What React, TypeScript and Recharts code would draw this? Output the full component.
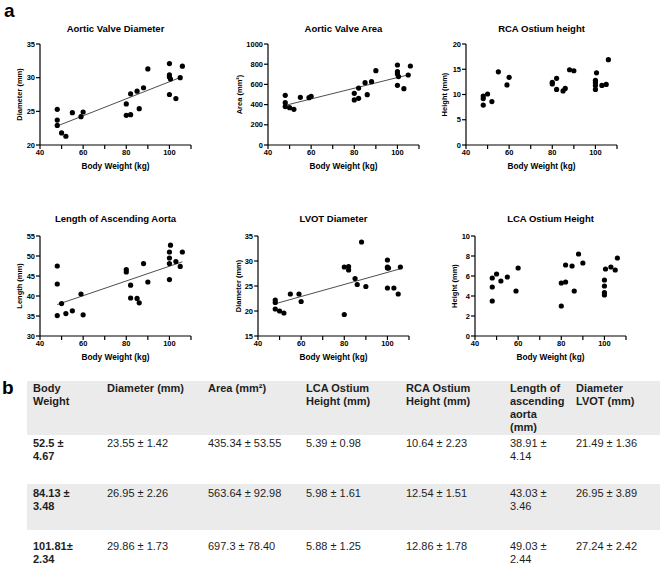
import React from 'react';
import { ScatterChart, Scatter, XAxis, YAxis, ReferenceLine } from 'recharts';

// body weight of each of the 24 animals (kg), same order in every series
const weights = [48, 48, 48, 50, 52, 55, 59, 60, 80, 80, 82, 82, 85, 86, 88, 90, 100, 100, 100, 100, 100.5, 103, 105, 106];

const valveDiameter = [25.3, 23.7, 22.9, 21.8, 21.3, 24.8, 24.2, 24.9, 26.1, 24.4, 27.6, 24.5, 28.0, 25.4, 28.5, 31.3, 32.1, 30.4, 30.1, 27.5, 29.8, 26.9, 30.0, 31.7];
const valveArea = [492, 419, 380, 370, 353, 472, 469, 482, 512, 446, 564, 462, 617, 498, 627, 736, 792, 726, 703, 591, 677, 558, 693, 782];
const rcaHeight = [9.7, 9.2, 7.9, 10.1, 8.6, 14.5, 11.9, 13.4, 12.4, 12.1, 13.2, 11.0, 10.7, 11.2, 14.9, 14.7, 12.8, 12.4, 11.8, 11.0, 14.3, 11.8, 12.0, 16.9];
const aortaLength = [47.5, 43.0, 35.1, 38.1, 35.6, 36.3, 40.5, 35.3, 46.6, 46.0, 42.7, 39.5, 39.4, 38.3, 48.1, 43.5, 49.5, 51.0, 48.1, 44.1, 52.7, 48.6, 47.4, 51.0];
const lvotDiameter = [22.2, 21.7, 20.4, 20.0, 19.6, 23.4, 23.4, 21.9, 28.8, 19.3, 28.9, 28.2, 26.5, 25.3, 33.8, 24.9, 30.2, 28.8, 28.6, 24.6, 28.6, 24.6, 23.4, 28.8];
const lcaHeight = [5.8, 4.9, 3.5, 6.2, 5.5, 5.9, 4.5, 6.8, 5.3, 3.0, 5.4, 7.1, 7.0, 4.5, 8.2, 7.3, 5.6, 5.0, 4.35, 4.1, 6.7, 6.9, 6.6, 7.8];

const xTicks = [40, 50, 60, 70, 80, 90, 100, 110];
const diameterTicks = [20, 25, 30, 35];
const areaTicks = [0, 200, 400, 600, 800, 1000];
const rcaTicks = [0, 5, 10, 15, 20];
const lengthTicks = [30, 35, 40, 45, 50, 55];
const lvotTicks = [15, 20, 25, 30, 35];
const lcaTicks = [0, 2, 4, 6, 8, 10];

// table b
const tableHeaders = ['Body\nWeight', 'Diameter (mm)', 'Area (mm²)', 'LCA Ostium\nHeight (mm)', 'RCA Ostium\nHeight (mm)', 'Length of\nascending\naorta\n(mm)', 'Diameter\nLVOT (mm)'];
const tableRows = [
  ['52.5 ±\n4.67', '23.55 ± 1.42', '435.34 ± 53.55', '5.39 ± 0.98', '10.64 ± 2.23', '38.91 ±\n4.14', '21.49 ± 1.36'],
  ['84.13 ±\n3.48', '26.95 ± 2.26', '563.64 ± 92.98', '5.98 ± 1.61', '12.54 ± 1.51', '43.03 ±\n3.46', '26.95 ± 3.89'],
  ['101.81±\n2.34', '29.86 ± 1.73', '697.3 ± 78.40', '5.88 ± 1.25', '12.86 ± 1.78', '49.03 ±\n2.44', '27.24 ± 2.42'],
];

const font = '"Liberation Sans", Arial, Helvetica, sans-serif';

// least squares line over the weight range
function trendLine(xs: number[], ys: number[]) {
  const n = xs.length;
  const mx = xs.reduce((a, b) => a + b, 0) / n;
  const my = ys.reduce((a, b) => a + b, 0) / n;
  let sxy = 0, sxx = 0;
  xs.forEach((x, i) => { sxy += (x - mx) * (ys[i] - my); sxx += (x - mx) * (x - mx); });
  const k = sxy / sxx;
  const x0 = Math.min(...xs), x1 = Math.max(...xs);
  return [{ x: x0, y: my + k * (x0 - mx) }, { x: x1, y: my + k * (x1 - mx) }];
}

const panels = [
  { title: 'Aortic Valve Diameter', yLabel: 'Diameter (mm)', values: valveDiameter, ticks: diameterTicks, left: 40, top: 44, h: 101, titleTop: 23, labelOff: 19, trend: true },
  { title: 'Aortic Valve Area', yLabel: 'Area (mm²)', values: valveArea, ticks: areaTicks, left: 268, top: 44, h: 101, titleTop: 23, labelOff: 11, trend: true },
  { title: 'RCA Ostium height', yLabel: 'Height (mm)', values: rcaHeight, ticks: rcaTicks, left: 466, top: 44, h: 101, titleTop: 23, labelOff: 18, trend: false },
  { title: 'Length of Ascending Aorta', yLabel: 'Length (mm)', values: aortaLength, ticks: lengthTicks, left: 40, top: 236, h: 100, titleTop: 213, labelOff: 19, trend: true },
  { title: 'LVOT Diameter', yLabel: 'Diameter (mm)', values: lvotDiameter, ticks: lvotTicks, left: 258, top: 236, h: 100, titleTop: 213, labelOff: 20, trend: true },
  { title: 'LCA Ostium Height', yLabel: 'Height (mm)', values: lcaHeight, ticks: lcaTicks, left: 475, top: 236, h: 100, titleTop: 213, labelOff: 19, trend: false },
];

const PLOT_W = 151;

const Dot = (props: any) => <circle cx={props.cx} cy={props.cy} r={2.6} fill="#000" />;

function Panel({ p }: any) {
  const data = weights.map((w, i) => ({ x: w, y: p.values[i] }));
  const seg = p.trend ? trendLine(weights, p.values) : null;
  const W = 40 + PLOT_W + 12;
  const axisStyle = { stroke: '#000', strokeWidth: 1.2 };
  return (
    <>
      <div style={{
        position: 'absolute', left: p.left, top: p.titleTop, width: PLOT_W, height: 12, lineHeight: '12px',
        textAlign: 'center', fontFamily: font, fontWeight: 700, fontSize: 9.5, color: '#000', whiteSpace: 'nowrap',
      }}>{p.title}</div>
      <div style={{ position: 'absolute', left: p.left - 40, top: p.top - 10 }}>
        <ScatterChart width={W} height={10 + p.h + 28} margin={{ top: 10, right: 12, bottom: 0, left: 0 }}>
          <XAxis
            type="number" dataKey="x" domain={[40, 110]} ticks={xTicks} height={28}
            tickFormatter={(v: number) => (v % 20 === 0 ? String(v) : '')}
            axisLine={axisStyle} tickLine={axisStyle} tickSize={4} tickMargin={1}
            tick={{ fontSize: 7.5, fontWeight: 700, fill: '#000', fontFamily: font }}
            label={{ value: 'Body Weight (kg)', position: 'insideBottom', offset: 4, style: { fontSize: 8.3, fontWeight: 700, fill: '#000', fontFamily: font } }}
          />
          <YAxis
            type="number" dataKey="y" domain={[p.ticks[0], p.ticks[p.ticks.length - 1]]} ticks={p.ticks} width={40}
            axisLine={axisStyle} tickLine={axisStyle} tickSize={4} tickMargin={1}
            tick={{ fontSize: 7.5, fontWeight: 700, fill: '#000', fontFamily: font }}
            label={{ value: p.yLabel, angle: -90, position: 'insideLeft', offset: p.labelOff, style: { textAnchor: 'middle', fontSize: 7.5, fontWeight: 700, fill: '#000', fontFamily: font } }}
          />
          {seg && <ReferenceLine segment={seg} stroke="#3a3a3a" strokeWidth={0.9} ifOverflow="visible" />}
          <Scatter data={data} fill="#000" shape={Dot} isAnimationActive={false} />
        </ScatterChart>
      </div>
    </>
  );
}

const colX = [33, 107, 208, 306, 406, 510, 576];
const rowTops = [437, 487, 540];

export default function App() {
  const cell = (text: string, x: number, y: number, bold: boolean, key: string) => (
    <div key={key} style={{
      position: 'absolute', left: x, top: y, fontFamily: font, fontSize: 11, lineHeight: '13px',
      fontWeight: bold ? 700 : 400, color: '#1e1e1e', whiteSpace: 'pre-line',
    }}>{text}</div>
  );
  return (
    <div style={{ position: 'absolute', left: 0, top: 0, width: 660, height: 564, background: '#fff', overflow: 'hidden' }}>
      <div style={{ position: 'absolute', left: 4, top: 0, fontFamily: font, fontWeight: 700, fontSize: 19, color: '#000' }}>a</div>
      {panels.map((p) => <Panel key={p.title} p={p} />)}
      <div style={{ position: 'absolute', left: 2, top: 377, fontFamily: font, fontWeight: 700, fontSize: 19, color: '#000' }}>b</div>
      <div style={{ position: 'absolute', left: 27, top: 381, width: 633, height: 54, background: '#ebebeb' }} />
      <div style={{ position: 'absolute', left: 27, top: 484, width: 633, height: 46, background: '#ebebeb' }} />
      {tableHeaders.map((h, i) => cell(h, colX[i], 382, true, 'h' + i))}
      {tableRows.map((r, ri) => r.map((v, ci) => cell(v, colX[ci], rowTops[ri], ci === 0, `c${ri}-${ci}`)))}
    </div>
  );
}
